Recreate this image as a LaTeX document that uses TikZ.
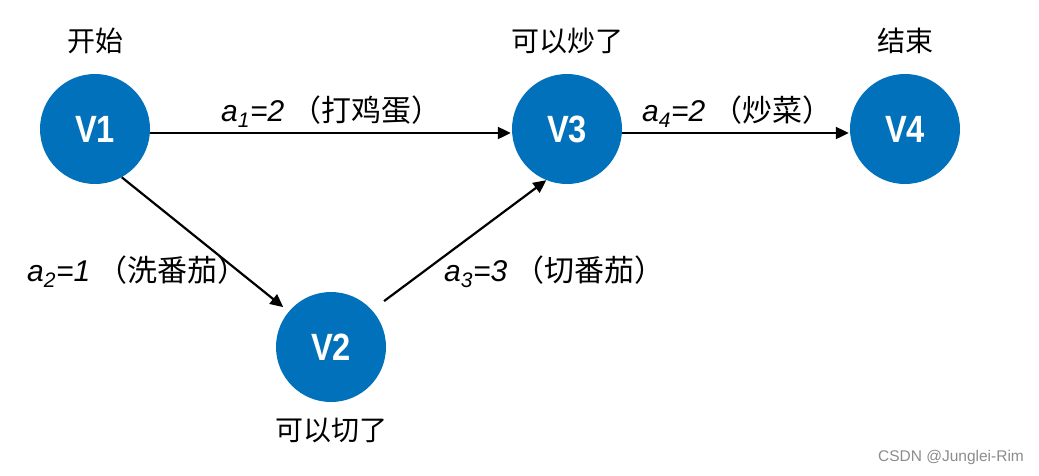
\documentclass[tikz,border=0pt]{standalone}
\usepackage{fontspec}
\setmainfont{Liberation Sans}
\newfontfamily\cjk{Noto Sans CJK SC}
\usetikzlibrary{arrows.meta}
\definecolor{nodeblue}{HTML}{0071BA}
\tikzset{
  vnode/.style={circle, fill=nodeblue, minimum size=110pt, inner sep=0pt, text=white, font=\fontsize{38}{40}\selectfont\bfseries},
  captext/.style={font=\fontsize{28}{32}\selectfont\cjk},
  elabel/.style={font=\fontsize{30}{34}\selectfont, inner sep=0pt, anchor=west},
  arr/.style={line width=2.2pt, -{Triangle[length=13pt,width=12pt]}}
}
\newcommand{\ital}[2]{{\itshape a\textsubscript{#1}=#2}\hspace{7pt}}
\newcommand{\vlab}[1]{\scalebox{0.86}[1]{#1}}
\begin{document}
\begin{tikzpicture}[x=1pt,y=-1pt]
\useasboundingbox (0,0) rectangle (1039,475);
\node[vnode] (V1) at (95,129) {\vlab{V1}};
\node[vnode] (V3) at (567,129) {\vlab{V3}};
\node[vnode] (V4) at (905,129) {\vlab{V4}};
\node[vnode] (V2) at (331,347) {\vlab{V2}};
\node[captext] (c1) at (95,41) {开始};
\node[captext] (c3) at (567,41) {可以炒了};
\node[captext] (c4) at (905,41) {结束};
\node[captext] (c2) at (331,430) {可以切了};
\draw[arr, shorten >=1pt] (V1.east |- 0,133) coordinate (s1) -- (V3.west |- 0,133) coordinate (e1);
\draw[arr, shorten >=1pt] (V3.east |- 0,133) coordinate (s4) -- (V4.west |- 0,133) coordinate (e4);
\draw[arr, shorten >=7pt] (V1.-61) -- (V2.140);
\draw[arr, shorten <=15pt] (V2.42) -- (V3.-112);
\node[elabel] (l1) at (221,112) {\ital{1}{2}{\cjk （打鸡蛋）}};
\node[elabel] (l2) at (27,272) {\ital{2}{1}{\cjk （洗番茄）}};
\node[elabel] (l3) at (444,272) {\ital{3}{3}{\cjk （切番茄）}};
\node[elabel] (l4) at (642,112) {\ital{4}{2}{\cjk （炒菜）}};
\node[font=\fontsize{15.5}{18}\selectfont, text=black!45] (wm) at (951,457) {CSDN @Junglei-Rim};
\end{tikzpicture}
\end{document}
